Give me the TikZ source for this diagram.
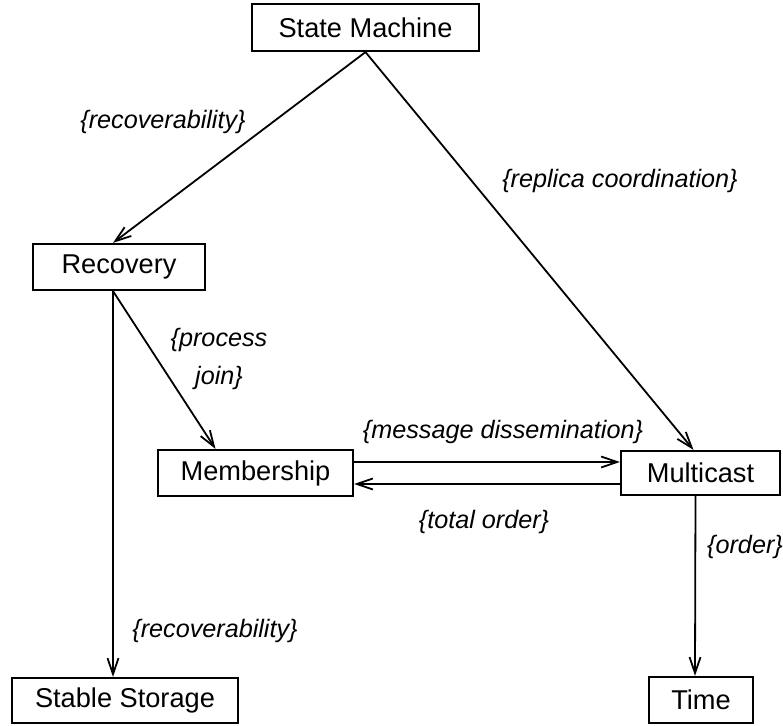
\documentclass[tikz,border=0pt]{standalone}
\usepackage{fontspec}
\setmainfont{Liberation Sans}
\usetikzlibrary{arrows.meta,calc}
\begin{document}
\begin{tikzpicture}[x=0.5pt,y=-0.5pt,
  box/.style={draw,line width=1.1pt,inner sep=0pt,font=\fontsize{13.6}{16}\selectfont},
  lab/.style={inner sep=0pt,font=\fontsize{12.6}{19}\selectfont\itshape,align=center},
  conn/.style={line width=0.9pt,-{Straight Barb[length=8pt,width=5.5pt,line width=0.9pt]}}]
\useasboundingbox (0,0) rectangle (783,726);
\node[box,minimum width=113.5pt,minimum height=23.5pt] (sm) at (365.5,27.5) {State Machine};
\node[box,minimum width=86pt,minimum height=23pt] (rec) at (119,267) {Recovery};
\node[box,minimum width=97.5pt,minimum height=23pt] (mem) at (255.5,473) {Membership};
\node[box,minimum width=79.5pt,minimum height=22pt] (mc) at (700.5,473) {Multicast};
\node[box,minimum width=113pt,minimum height=22.5pt] (ss) at (125,700.5) {Stable Storage};
\node[box,minimum width=52pt,minimum height=23pt] (time) at (701,700) {Time};
\draw[conn] (sm.south) -- ($(rec.north)+(-6,0)$);
\draw[conn] (sm.south) -- ($(mc.north)+(-7,0)$);
\draw[conn] ($(rec.south)+(-6,0)$) -- ($(mem.north)+(-40,0)$);
\draw[conn] ($(rec.south)+(-6,0)$) -- ($(ss.north)+(-12,0)$);
\draw[conn] ($(mem.east)+(0,-11)$) -- ($(mc.west)+(0,-11)$);
\draw[conn] ($(mc.west)+(0,11)$) -- ($(mem.east)+(0,11)$);
\draw[conn] ($(mc.south)+(-5,0)$) -- ($(time.north)+(-6,0)$);
\node[lab] (l1) at (163,122) {\{recoverability\}};
\node[lab] (l2) at (620,181) {\{replica coordination\}};
\node[lab] (l3) at (219,359) {\{process\\join\}};
\node[lab] (l4) at (503,432) {\{message dissemination\}};
\node[lab] (l5) at (484,522) {\{total order\}};
\node[lab] (l6) at (745,547) {\{order\}};
\node[lab] (l7) at (215,631) {\{recoverability\}};
\end{tikzpicture}
\end{document}
